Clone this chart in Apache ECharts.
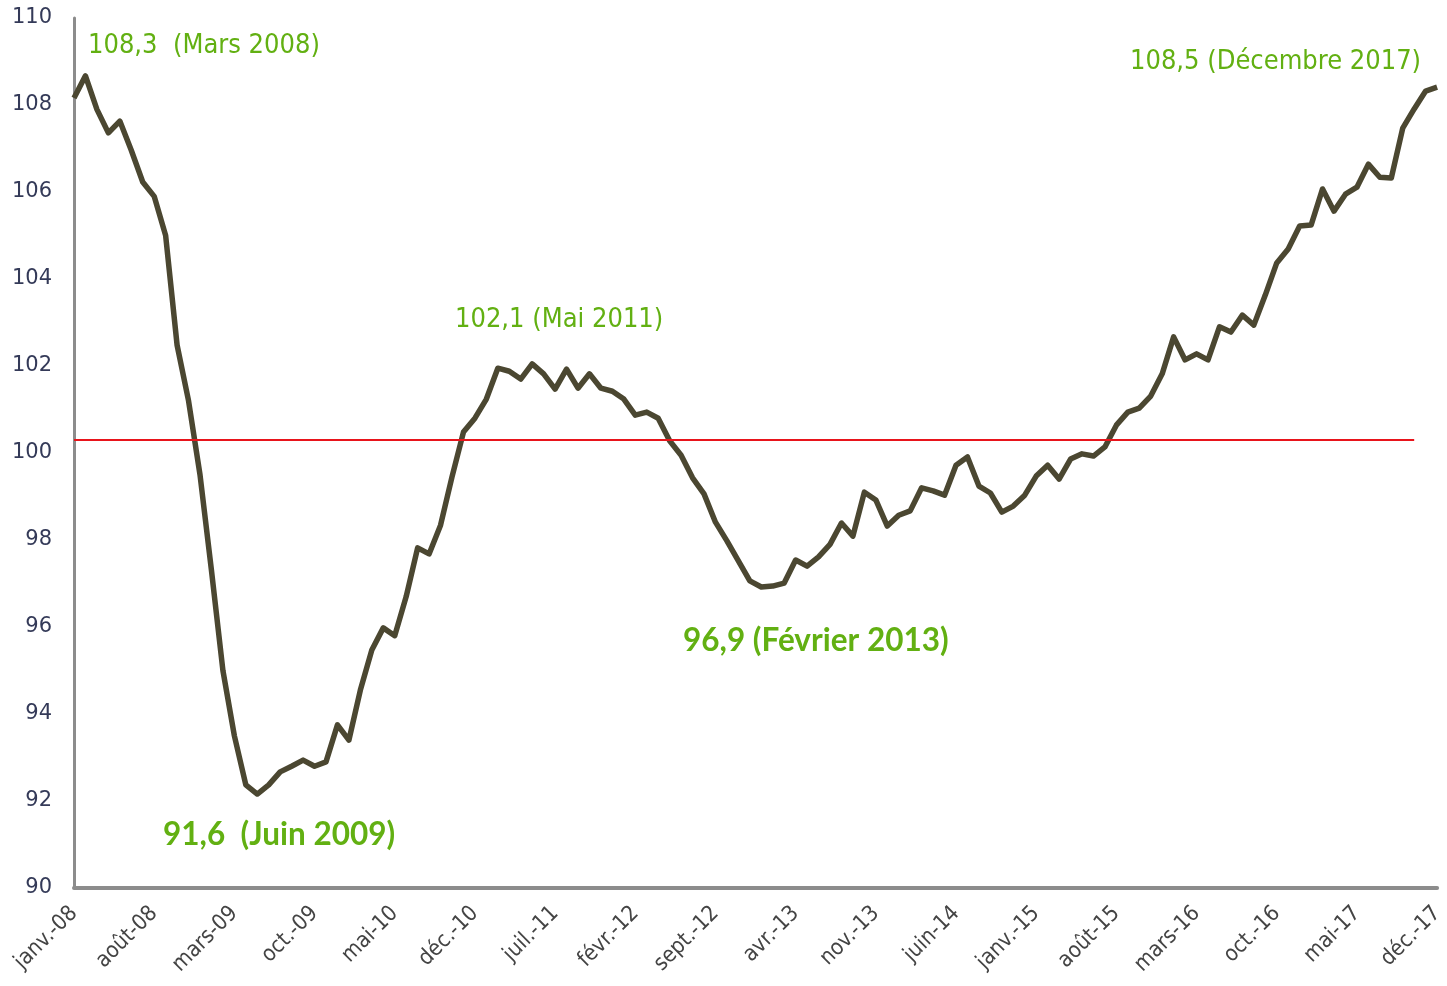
<!DOCTYPE html>
<html>
<head>
<meta charset="utf-8">
<script src="https://cdn.jsdelivr.net/npm/echarts@6/dist/echarts.min.js"></script>
<style>
  html, body { margin: 0; padding: 0; background: #fff; }
  #chart { width: 1447px; height: 986px; }
</style>
</head>
<body>
<div id="chart"></div>
<script>
// mois au format Excel "mmm-aa"
const MONTHS = ['janv.', 'févr.', 'mars', 'avr.', 'mai', 'juin', 'juil.', 'août', 'sept.', 'oct.', 'nov.', 'déc.']
const YEARS = ['08', '09', '10', '11', '12', '13', '14', '15', '16', '17']

const categories = []
YEARS.forEach(y => MONTHS.forEach(m => categories.push(`${m}-${y}`)))

// indice mensuel, janv. 2008 -> déc. 2017
const indexValues = [
  108.16, 108.67, 107.9, 107.36, 107.63, 106.96, 106.23, 105.9, 105.0, 102.48, 101.2, 99.5,
  97.3, 95.0, 93.5, 92.37, 92.16, 92.37, 92.67, 92.8, 92.94, 92.8, 92.9, 93.75,
  93.4, 94.55, 95.47, 95.98, 95.8, 96.7, 97.82, 97.68, 98.34, 99.45, 100.48, 100.8,
  101.24, 101.95, 101.88, 101.7, 102.05, 101.82, 101.47, 101.93, 101.49, 101.82, 101.49, 101.42,
  101.24, 100.87, 100.94, 100.8, 100.28, 99.95, 99.43, 99.06, 98.41, 97.98, 97.52, 97.06,
  96.92, 96.94, 97.01, 97.54, 97.4, 97.61, 97.9, 98.39, 98.09, 99.1, 98.92, 98.32,
  98.57, 98.67, 99.2, 99.13, 99.03, 99.72, 99.91, 99.24, 99.08, 98.64, 98.78, 99.03,
  99.47, 99.72, 99.4, 99.86, 99.98, 99.93, 100.14, 100.64, 100.94, 101.03, 101.31, 101.82,
  102.67, 102.14, 102.28, 102.14, 102.9, 102.78, 103.17, 102.94, 103.63, 104.37, 104.69, 105.22,
  105.24, 106.07, 105.56, 105.95, 106.11, 106.64, 106.34, 106.32, 107.47, 107.91, 108.32, 108.41,
]

// ligne de référence rouge
const refValue = 100.3
const refStart = 'janv.-08'
const refEnd = 'oct.-17'

// annotations : texte, position, style
const annotations = [
  { text: '108,3  (Mars 2008)', x: 88, y: 44, narrow: true },
  { text: '102,1 (Mai 2011)', x: 455, y: 318, narrow: true },
  { text: '91,6  (Juin 2009)', x: 163, y: 835, narrow: false },
  { text: '96,9 (Février 2013)', x: 683, y: 641, narrow: false },
  { text: '108,5 (Décembre 2017)', x: 1130, y: 60, narrow: true },
]

const NARROW = "'Liberation Sans Narrow', 'DejaVu Sans Condensed', 'Roboto', sans-serif"
const GREEN = '#62b012'

const chart = echarts.init(document.getElementById('chart'))

const option = {
  animation: false,
  backgroundColor: '#fff',
  grid: { left: 74, right: 6, top: 18, bottom: 98 },
  xAxis: {
    type: 'category',
    data: categories,
    boundaryGap: false,
    axisLine: { lineStyle: { color: '#8c8c8c', width: 4 } },
    axisTick: { show: false },
    axisLabel: {
      interval: 6,
      rotate: 45,
      margin: 22,
      color: '#444',
      fontSize: 22,
      fontFamily: NARROW,
    },
    splitLine: { show: false },
  },
  yAxis: {
    type: 'value',
    min: 90,
    max: 110,
    interval: 2,
    axisLine: { show: true, lineStyle: { color: '#8c8c8c', width: 3 } },
    axisTick: { show: false },
    axisLabel: {
      margin: 22,
      color: '#343a58',
      fontSize: 21,
      fontFamily: "'DejaVu Sans', sans-serif",
    },
    splitLine: { show: false },
  },
  series: [
    {
      type: 'line',
      data: indexValues,
      showSymbol: false,
      lineStyle: { color: '#4b4731', width: 5.5, join: 'round' },
      markLine: {
        silent: true,
        symbol: 'none',
        label: { show: false },
        lineStyle: { color: '#e8141b', width: 2, type: 'solid' },
        data: [[{ xAxis: refStart, yAxis: refValue }, { xAxis: refEnd, yAxis: refValue }]],
      },
    },
  ],
  graphic: annotations.map(a => ({
    type: 'text',
    left: a.x,
    top: a.narrow ? a.y - 12 : a.y - 16,
    style: {
      text: a.text,
      fill: GREEN,
      font: a.narrow ? `27px ${NARROW}` : "bold 31.5px 'Lato', 'Noto Sans', sans-serif",
    },
  })),
}

chart.setOption(option)
</script>
</body>
</html>
